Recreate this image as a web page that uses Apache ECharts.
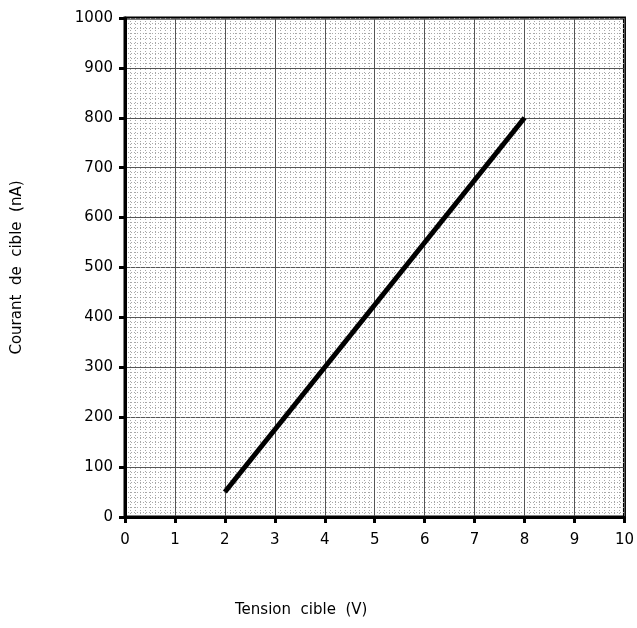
<!DOCTYPE html>
<html>
<head>
<meta charset="utf-8">
<script src="https://cdn.jsdelivr.net/npm/echarts@6/dist/echarts.min.js"></script>
<style>
  html, body { margin: 0; padding: 0; background: #fff; }
  #main { width: 637px; height: 628px; }
</style>
</head>
<body>
<div id="main"></div>
<script>
// tension (V) vs courant (nA)
const tension = [2, 8]
const courant = [50, 800]
const xTicks = [0, 1, 2, 3, 4, 5, 6, 7, 8, 9, 10]
const yTicks = [0, 100, 200, 300, 400, 500, 600, 700, 800, 900, 1000]

const font = '"DejaVu Sans", sans-serif'

const chart = echarts.init(document.getElementById('main'))
chart.setOption({
  animation: false,
  grid: {
    left: 125, right: 12, top: 18, bottom: 111,
    show: true,
    borderColor: '#000',
    borderWidth: 3,
    backgroundColor: '#fff'
  },
  xAxis: {
    type: 'value',
    min: xTicks[0],
    max: xTicks[xTicks.length - 1],
    interval: 1,
    axisLine: { show: true, lineStyle: { color: '#000', width: 3 } },
    axisTick: { show: true, length: 6, lineStyle: { color: '#000', width: 3 } },
    axisLabel: { color: '#000', fontSize: 15, margin: 16, fontFamily: font },
    splitLine: { show: true, lineStyle: { color: '#555', width: 1 } },
    minorTick: { show: false, splitNumber: 10 },
    minorSplitLine: { show: true, lineStyle: { color: '#a8a8a8', width: 1, type: [1, 2] } }
  },
  yAxis: {
    type: 'value',
    min: yTicks[0],
    max: yTicks[yTicks.length - 1],
    interval: 100,
    name: 'Courant  de  cible  (nA)',
    nameLocation: 'middle',
    nameGap: 100,
    nameTextStyle: { color: '#000', fontSize: 15, fontFamily: font },
    axisLine: { show: true, lineStyle: { color: '#000', width: 3 } },
    axisTick: { show: true, length: 6, lineStyle: { color: '#000', width: 3 } },
    axisLabel: { color: '#000', fontSize: 15, margin: 12, fontFamily: font, formatter: v => String(v) },
    splitLine: { show: true, lineStyle: { color: '#555', width: 1 } },
    minorTick: { show: false, splitNumber: 10 },
    minorSplitLine: { show: true, lineStyle: { color: '#a8a8a8', width: 1, type: [1, 2] } }
  },
  graphic: [{
    type: 'text',
    left: 235,
    top: 603,
    style: { text: 'Tension  cible  (V)', fill: '#000', fontSize: 15, fontFamily: font }
  }],
  series: [{
    type: 'line',
    data: tension.map((v, i) => [v, courant[i]]),
    symbol: 'none',
    lineStyle: { color: '#000', width: 5 }
  }]
})
</script>
</body>
</html>
